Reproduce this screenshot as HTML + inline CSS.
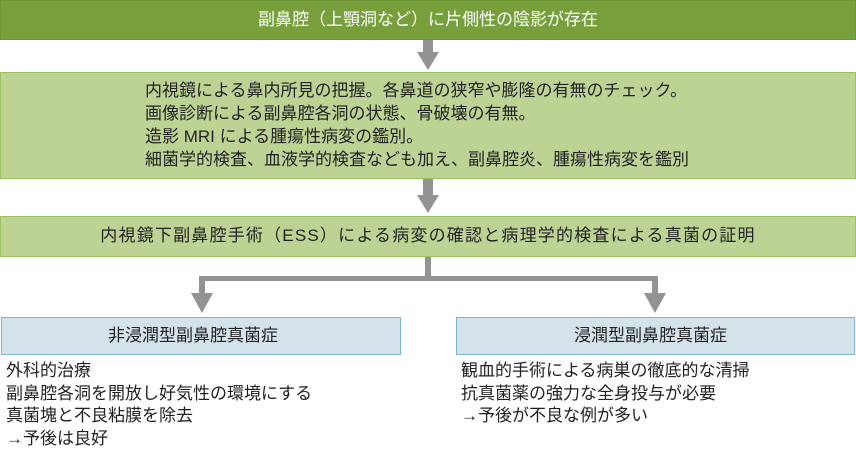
<!DOCTYPE html>
<html><head><meta charset="utf-8"><style>
body{margin:0;width:856px;height:454px;position:relative;background:#fff;font-family:"Liberation Sans","Noto Sans CJK JP",sans-serif;color:#222;overflow:hidden}
.b{position:absolute;box-sizing:border-box}
.t{position:absolute;font-size:17px;line-height:22.7px;white-space:nowrap}
</style></head><body>
<div class="b" style="left:0;top:0;width:856px;height:40px;background:#77a03c;border:1px solid #6d9636;color:#fff;font-size:17px;text-align:center;line-height:38px">副鼻腔（上顎洞など）に片側性の陰影が存在</div>
<div class="b" style="left:0;top:72px;width:856px;height:107px;background:#bdd393;border:1.5px solid #9cc165"></div>
<div class="t" style="left:145px;top:79px;line-height:23px">内視鏡による鼻内所見の把握。各鼻道の狭窄や膨隆の有無のチェック。<br>画像診断による副鼻腔各洞の状態、骨破壊の有無。<br>造影 MRI による腫瘍性病変の鑑別。<br>細菌学的検査、血液学的検査なども加え、副鼻腔炎、腫瘍性病変を鑑別</div>
<div class="b" style="left:0;top:216px;width:856px;height:41px;background:#bdd393;border:1.5px solid #9cc165;text-align:center;line-height:38px;font-size:17px;letter-spacing:1.2px">内視鏡下副鼻腔手術（ESS）による病変の確認と病理学的検査による真菌の証明</div>
<svg class="b" style="left:0;top:0" width="856" height="454">
<g fill="#939393">
<rect x="423" y="40" width="10" height="14"/><polygon points="417,52 439,52 428,70"/>
<rect x="423" y="179" width="10" height="18"/><polygon points="417,195 439,195 428,213"/>
<rect x="425" y="257" width="6" height="22"/>
<rect x="199" y="276" width="459" height="5"/>
<rect x="199" y="276" width="6" height="18"/><rect x="652" y="276" width="6" height="18"/>
<polygon points="191,293 213,293 202,313"/><polygon points="644,293 666,293 655,313"/>
</g></svg>
<div class="b" style="left:1px;top:317px;width:400px;height:38px;background:#d4e2ea;border:1.5px solid #7fb6cf;font-size:17px;line-height:35px;padding-left:106px">非浸潤型副鼻腔真菌症</div>
<div class="b" style="left:456px;top:317px;width:399px;height:38px;background:#d4e2ea;border:1.5px solid #7fb6cf;font-size:17px;line-height:35px;padding-left:117px">浸潤型副鼻腔真菌症</div>
<div class="t" style="left:6px;top:360px">外科的治療<br>副鼻腔各洞を開放し好気性の環境にする<br>真菌塊と不良粘膜を除去<br>→予後は良好</div>
<div class="t" style="left:461px;top:360px">観血的手術による病巣の徹底的な清掃<br>抗真菌薬の強力な全身投与が必要<br>→予後が不良な例が多い</div>
</body></html>
